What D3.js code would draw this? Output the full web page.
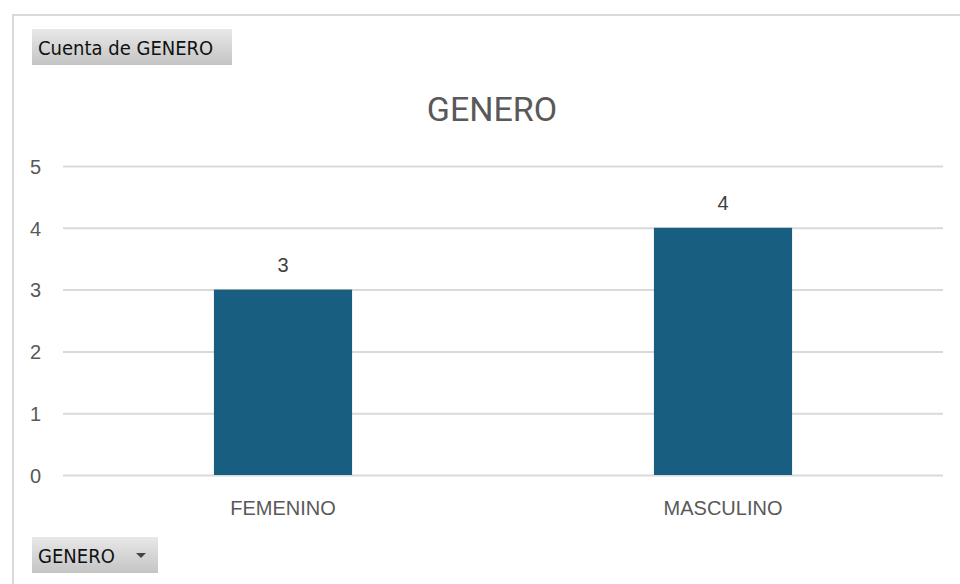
<!DOCTYPE html>
<html>
<head>
<meta charset="utf-8">
<script src="https://cdn.jsdelivr.net/npm/d3@7"></script>
<style>
  body { margin: 0; background: #fff; }
  .btn-text { font-family: "DejaVu Sans Condensed", "DejaVu Sans", sans-serif; font-size: 20px; fill: #111; }
  .tick text { font-family: "Liberation Sans", Arial, sans-serif; font-size: 20px; fill: #595959; }
</style>
</head>
<body>
<div id="chart"></div>
<script>
const categories = ["FEMENINO", "MASCULINO"];
const counts = [3, 4];
const yTicks = [0, 1, 2, 3, 4, 5];

const width = 960;
const height = 584;
const plotLeft = 63, plotRight = 943, plotTop = 166, plotBottom = 475;

const svg = d3.select("#chart")
  .append("svg")
  .attr("width", width)
  .attr("height", height);

const defs = svg.append("defs");
const grad = defs.append("linearGradient")
  .attr("id", "btnGrad")
  .attr("x1", 0).attr("y1", 0).attr("x2", 0).attr("y2", 1);
grad.append("stop").attr("offset", "0%").attr("stop-color", "#e8e8e8");
grad.append("stop").attr("offset", "100%").attr("stop-color", "#c4c4c4");

// outer frame
svg.append("rect")
  .attr("x", 13).attr("y", 15)
  .attr("width", 960).attr("height", 600)
  .attr("fill", "none")
  .attr("stroke", "#d9d9d9")
  .attr("stroke-width", 2);

const x = d3.scaleBand()
  .domain(categories)
  .range([plotLeft, plotRight])
  .paddingInner(0.686)
  .paddingOuter(0.343);

const y = d3.scaleLinear().domain([0, 5]).range([plotBottom, plotTop]);

// grid + y axis
const yAxis = svg.append("g")
  .attr("transform", "translate(" + plotLeft + ",0)")
  .call(d3.axisLeft(y).tickValues(yTicks).tickFormat(d3.format("d"))
    .tickSize(-(plotRight - plotLeft)).tickPadding(22));
yAxis.select(".domain").remove();
yAxis.selectAll(".tick line").attr("stroke", "#d9d9d9").attr("stroke-width", 2);
yAxis.selectAll(".tick text").attr("dy", "0.36em");

// x axis labels
const xAxis = svg.append("g")
  .attr("transform", "translate(0," + plotBottom + ")")
  .call(d3.axisBottom(x).tickSize(0).tickPadding(26));
xAxis.select(".domain").remove();

// bars
svg.selectAll("rect.bar")
  .data(categories)
  .enter()
  .append("rect")
  .attr("class", "bar")
  .attr("x", d => x(d))
  .attr("y", (d, i) => y(counts[i]))
  .attr("width", x.bandwidth())
  .attr("height", (d, i) => plotBottom - y(counts[i]))
  .attr("fill", "#175e80");

// data labels
svg.selectAll("text.value")
  .data(categories)
  .enter()
  .append("text")
  .attr("class", "value")
  .attr("x", d => x(d) + x.bandwidth() / 2)
  .attr("y", (d, i) => y(counts[i]) - 18)
  .attr("text-anchor", "middle")
  .style("font-family", "'Liberation Sans', Arial, sans-serif")
  .style("font-size", "20px")
  .attr("fill", "#404040")
  .text((d, i) => counts[i]);

// title
svg.append("text")
  .attr("x", 492)
  .attr("y", 121)
  .attr("text-anchor", "middle")
  .style("font-family", "Roboto, 'Liberation Sans', sans-serif")
  .style("font-size", "34px")
  .attr("fill", "#595959")
  .text("GENERO");

// field buttons
const b1 = svg.append("g").attr("transform", "translate(32,29)");
b1.append("rect").attr("width", 200).attr("height", 36).attr("fill", "url(#btnGrad)");
b1.append("text").attr("class", "btn-text").attr("x", 6).attr("y", 26).text("Cuenta de GENERO");

const b2 = svg.append("g").attr("transform", "translate(32,537)");
b2.append("rect").attr("width", 126).attr("height", 36).attr("fill", "url(#btnGrad)");
b2.append("text").attr("class", "btn-text").attr("x", 6).attr("y", 26).text("GENERO");
b2.append("path").attr("d", "M104,16 L114,16 L109,21 Z").attr("fill", "#444");
</script>
</body>
</html>
